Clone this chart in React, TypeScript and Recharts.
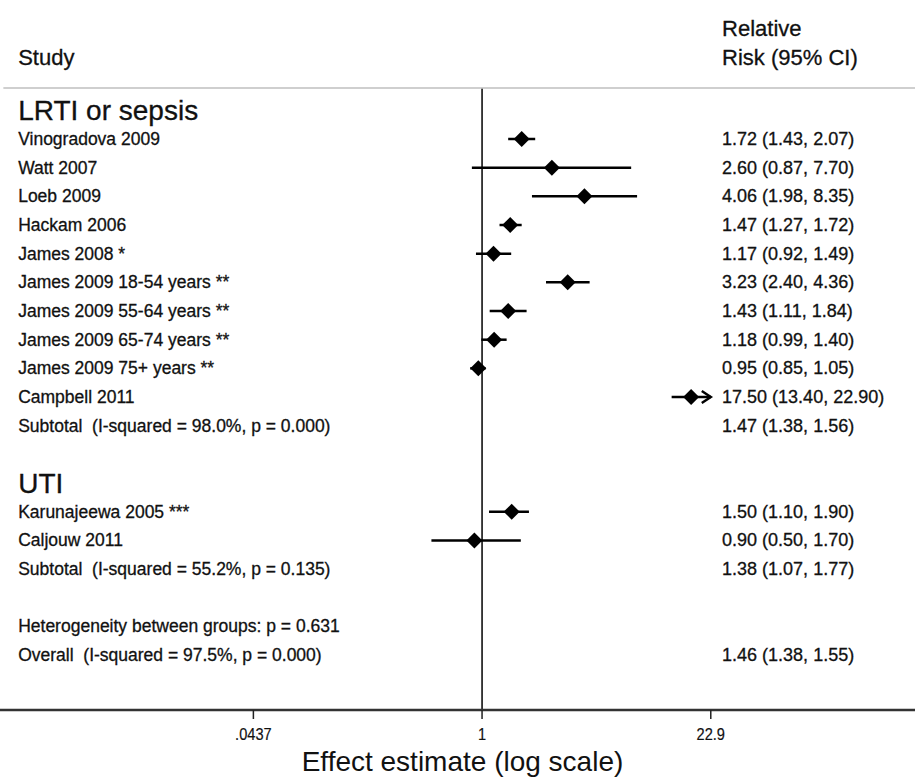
import { ComposedChart, Scatter, XAxis, YAxis, ErrorBar, ReferenceLine } from 'recharts';

// individual studies
const studyNames = [
  'Vinogradova 2009',
  'Watt 2007',
  'Loeb 2009',
  'Hackam 2006',
  'James 2008 *',
  'James 2009 18-54 years **',
  'James 2009 55-64 years **',
  'James 2009 65-74 years **',
  'James 2009 75+ years **',
  'Campbell 2011',
  'Karunajeewa 2005 ***',
  'Caljouw 2011',
];
const studyRows = [1, 2, 3, 4, 5, 6, 7, 8, 9, 10, 14, 15];
const estimates = [1.72, 2.6, 4.06, 1.47, 1.17, 3.23, 1.43, 1.18, 0.95, 17.5, 1.5, 0.9];
const lowerCI = [1.43, 0.87, 1.98, 1.27, 0.92, 2.4, 1.11, 0.99, 0.85, 13.4, 1.1, 0.5];
const upperCI = [2.07, 7.7, 8.35, 1.72, 1.49, 4.36, 1.84, 1.4, 1.05, 22.9, 1.9, 1.7];

// pooled / summary rows (text only)
const summaryNames = [
  'Subtotal  (I-squared = 98.0%, p = 0.000)',
  'Subtotal  (I-squared = 55.2%, p = 0.135)',
  'Heterogeneity between groups: p = 0.631',
  'Overall  (I-squared = 97.5%, p = 0.000)',
];
const summaryRows = [11, 16, 18, 19];
const summaryEst = [1.47, 1.38, null, 1.46];
const summaryLow = [1.38, 1.07, null, 1.38];
const summaryHigh = [1.56, 1.77, null, 1.55];

const groupNames = ['LRTI or sepsis', 'UTI'];
const groupRows = [0, 13];

const leftHeaders = ['Study'];
const leftHeaderRows = [-1.83];
const rightHeaders = ['Relative', 'Risk (95% CI)'];
const rightHeaderRows = [-2.87, -1.83];

const tickValues = [0.0437, 1, 22.9];
const tickLabels = ['.0437', '1', '22.9'];
const axisMax = 22.9;

// layout (log10 units / row units)
const X_MIN = -2.866;
const X_MAX = 2.574;
const Y_MIN = -3.848;
const Y_MAX = 20.916;
const LEFT_COL = -2.758;
const RIGHT_COL = 1.427;
const DIVIDER_ROW = -0.78;

const FONT = '"Liberation Sans", Arial, sans-serif';
const INK = '#111';

const lg = (v: number) => Math.log10(v);
const fmt = (e: number, l: number, h: number) => `${e.toFixed(2)} (${l.toFixed(2)}, ${h.toFixed(2)})`;

const points = studyNames.map((name, i) => {
  const hi = Math.min(upperCI[i], axisMax);
  return {
    name,
    x: lg(estimates[i]),
    y: studyRows[i],
    err: [lg(estimates[i]) - lg(lowerCI[i]), lg(hi) - lg(estimates[i])],
  };
});

const arrows = studyNames
  .map((_, i) => ({ x: lg(axisMax), y: studyRows[i], clipped: upperCI[i] >= axisMax }))
  .filter((d) => d.clipped);

const leftText = [
  ...studyNames.map((t, i) => ({ x: LEFT_COL, y: studyRows[i], label: t, size: 17.5 })),
  ...summaryNames.map((t, i) => ({ x: LEFT_COL, y: summaryRows[i], label: t, size: 17.5 })),
  ...groupNames.map((t, i) => ({ x: LEFT_COL, y: groupRows[i], label: t, size: 28 })),
  ...leftHeaders.map((t, i) => ({ x: LEFT_COL, y: leftHeaderRows[i], label: t, size: 22 })),
];

const rightText = [
  ...studyNames.map((_, i) => ({
    x: RIGHT_COL,
    y: studyRows[i],
    label: fmt(estimates[i], lowerCI[i], upperCI[i]),
    size: 18,
  })),
  ...summaryNames
    .map((_, i) => ({
      x: RIGHT_COL,
      y: summaryRows[i],
      label: summaryEst[i] == null ? '' : fmt(summaryEst[i] as number, summaryLow[i] as number, summaryHigh[i] as number),
      size: 18,
    }))
    .filter((d) => d.label),
  ...rightHeaders.map((t, i) => ({ x: RIGHT_COL, y: rightHeaderRows[i], label: t, size: 22 })),
];

function TextMark(props: any) {
  const { cx, cy, payload } = props;
  return (
    <text
      x={cx}
      y={cy}
      dominantBaseline="central"
      fontFamily={FONT}
      fontSize={payload.size}
      fill={INK}
      stroke={INK}
      strokeWidth={0.3}
      style={{ whiteSpace: 'pre' }}
    >
      {payload.label}
    </text>
  );
}

function Diamond(props: any) {
  const { cx, cy } = props;
  return <polygon points={`${cx - 8},${cy} ${cx},${cy - 8} ${cx + 8},${cy} ${cx},${cy + 8}`} fill="#000" />;
}

function Arrow(props: any) {
  const { cx, cy } = props;
  return (
    <polyline
      points={`${cx - 9},${cy - 6} ${cx},${cy} ${cx - 9},${cy + 6}`}
      fill="none"
      stroke="#000"
      strokeWidth={2.5}
    />
  );
}

function AxisTick(props: any) {
  const { x, y, payload } = props;
  const i = tickValues.findIndex((t) => Math.abs(lg(t) - payload.value) < 1e-6);
  return (
    <text
      transform={`translate(${x},${y + 21}) scale(0.86,1)`}
      textAnchor="middle"
      fontFamily={FONT}
      fontSize={17}
      fill={INK}
      stroke={INK}
      strokeWidth={0.2}
    >
      {i >= 0 ? tickLabels[i] : ''}
    </text>
  );
}

function AxisTitle(props: any) {
  const { viewBox } = props;
  return (
    <text
      x={viewBox.x + viewBox.width / 2 + 5}
      y={viewBox.y + 61}
      textAnchor="middle"
      fontFamily={FONT}
      fontSize={28}
      fill={INK}
    >
      Effect estimate (log scale)
    </text>
  );
}

export default function App() {
  return (
    <div style={{ width: 915, height: 783, background: '#fff' }}>
      <style>{'body{margin:0}'}</style>
      <ComposedChart width={915} height={783} margin={{ top: 0, right: 0, left: 0, bottom: 0 }}>
        <XAxis
          type="number"
          dataKey="x"
          domain={[X_MIN, X_MAX]}
          allowDataOverflow
          ticks={tickValues.map(lg)}
          height={73}
          tickSize={9}
          tickMargin={0}
          tick={AxisTick}
          tickLine={{ stroke: '#222', strokeWidth: 1.5 }}
          axisLine={{ stroke: '#333', strokeWidth: 2.5 }}
          label={AxisTitle}
        />
        <YAxis type="number" dataKey="y" domain={[Y_MIN, Y_MAX]} reversed allowDataOverflow hide />
        <ReferenceLine
          segment={[
            { x: X_MIN + 0.02, y: DIVIDER_ROW },
            { x: X_MAX, y: DIVIDER_ROW },
          ]}
          stroke="#cfcfcf"
          strokeWidth={2}
        />
        <ReferenceLine
          segment={[
            { x: 0, y: DIVIDER_ROW + 0.03 },
            { x: 0, y: Y_MAX },
          ]}
          stroke="#000"
          strokeWidth={1.5}
        />
        <Scatter data={points} shape={Diamond} isAnimationActive={false}>
          <ErrorBar dataKey="err" direction="x" width={0} stroke="#000" strokeWidth={2.5} isAnimationActive={false} />
        </Scatter>
        <Scatter data={arrows} shape={Arrow} isAnimationActive={false} />
        <Scatter data={leftText} shape={TextMark} isAnimationActive={false} />
        <Scatter data={rightText} shape={TextMark} isAnimationActive={false} />
      </ComposedChart>
    </div>
  );
}
